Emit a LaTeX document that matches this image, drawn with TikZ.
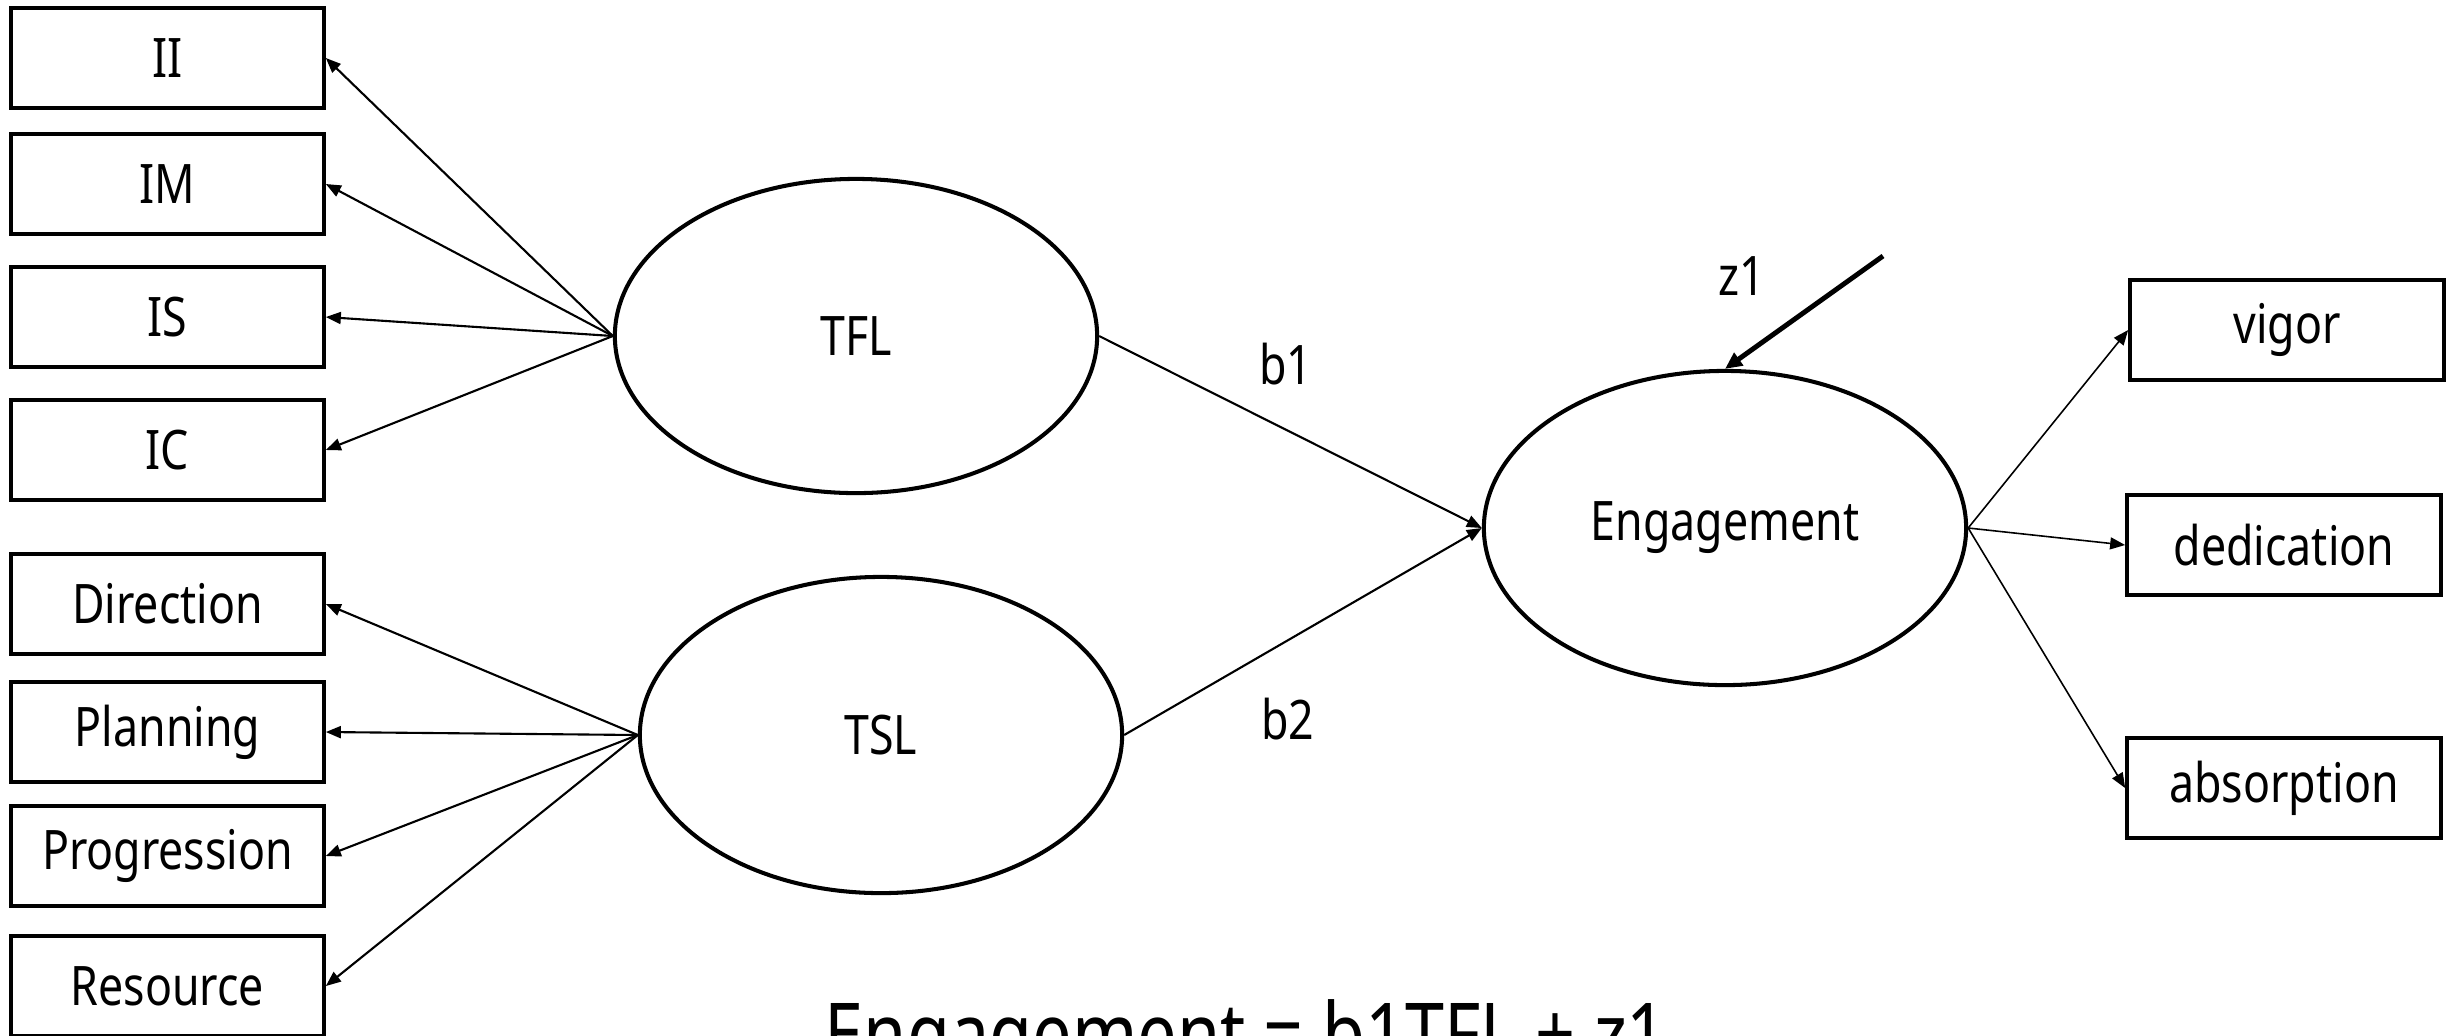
\documentclass[tikz,border=0pt]{standalone}
\usepackage{fontspec}
\setmainfont{Noto Sans}[FakeStretch=0.82]
\usetikzlibrary{shapes.geometric,arrows.meta}
\begin{document}
\begin{tikzpicture}[x=0.01cm,y=-0.01cm,
  every node/.style={font=\fontsize{15.5}{17}\selectfont},
  obsbox/.style={draw,line width=1pt,rectangle,minimum width=3.13cm,minimum height=1.0cm,inner sep=0pt},
  latent/.style={draw,line width=1.15pt,ellipse,minimum width=4.82cm,minimum height=3.14cm,inner sep=0pt},
  arr/.style={line width=0.6pt,-{Triangle[length=0.15cm,width=0.12cm]}},
  thinarr/.style={line width=0.45pt,-{Triangle[length=0.15cm,width=0.12cm]}},
  lbl/.style={inner sep=0pt}]
\useasboundingbox (0,0) rectangle (2463,1035);
% left boxes
\node[obsbox] (II) at (167.5,58) {II};
\node[obsbox] (IM) at (167.5,184) {IM};
\node[obsbox] (IS) at (167.5,317) {IS};
\node[obsbox] (IC) at (167.5,450) {IC};
\node[obsbox] (Dir) at (167.5,604) {Direction};
\node[obsbox] (Pla) at (167.5,732) {Planning};
\node[obsbox] (Pro) at (167.5,856) {Progression};
\node[obsbox] (Res) at (167.5,986) {Resource};
% latent variables
\node[latent] (TFL) at (856,336) {TFL};
\node[latent,minimum height=3.16cm] (TSL) at (881,735) {TSL};
\node[latent] (Eng) at (1725,528) {Engagement};
% right boxes
\node[obsbox,minimum width=3.14cm] (vig) at (2287,330) {vigor};
\node[obsbox,minimum width=3.14cm] (ded) at (2284,545) {dedication};
\node[obsbox,minimum width=3.14cm] (abs) at (2284,788) {absorption};
% labels
\node[lbl] (b1) at (1286,364) {b1};
\node[lbl] (b2) at (1288,719) {b2};
\node[lbl] (z1) at (1742,276) {z1};
\coordinate (zs) at (1883,256);
% loadings
\foreach \t in {II,IM,IS,IC} \draw[arr] (TFL.west) -- (\t.east);
\foreach \t in {Dir,Pla,Pro,Res} \draw[arr] (TSL.west) -- (\t.east);
\draw[arr] (TFL.east) -- (Eng.west);
\draw[arr] (TSL.east) -- (Eng.west);
\foreach \t in {vig,ded,abs} \draw[thinarr] (Eng.east) -- (\t.west);
\draw[line width=1.4pt,-{Triangle[length=0.17cm,width=0.15cm]}] (zs) -- (Eng.north);
% equation
\node[anchor=base,inner sep=0pt,font=\fontsize{24.3}{28}\selectfont] (eq) at (1246,1064) {Engagement = b1TFL + z1};
\end{tikzpicture}
\end{document}
